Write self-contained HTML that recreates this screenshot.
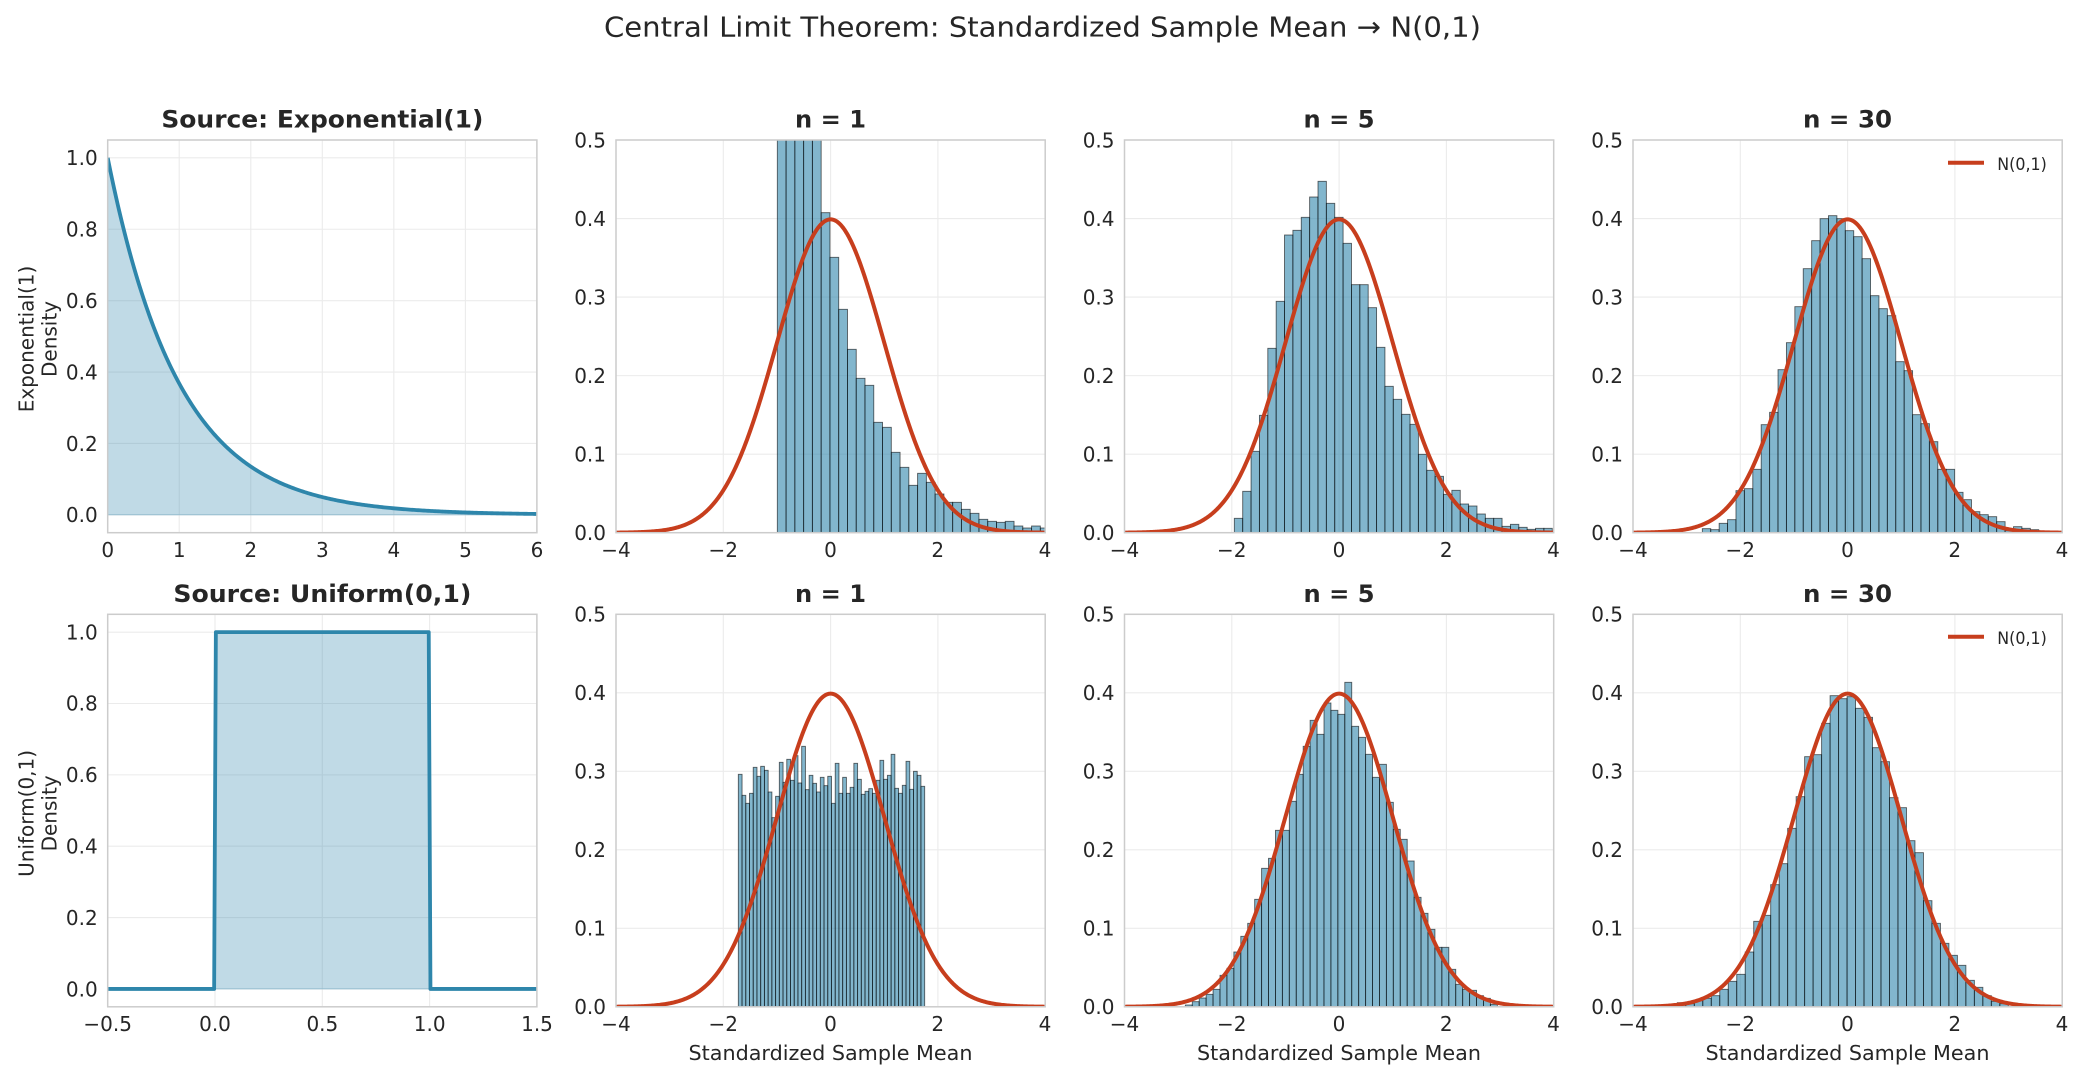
<!DOCTYPE html>
<html>
<head>
<meta charset="utf-8">
<style>
  html, body { margin: 0; padding: 0; background: #ffffff; }
  body { width: 2085px; height: 1078px; overflow: hidden; }
  svg { display: block; }
  text { font-family: "DejaVu Sans", "Liberation Sans", sans-serif; fill: #262626; }
  .tk { font-size: 20px; }
  .ttl { font-size: 24px; font-weight: bold; }
  .lab { font-size: 20px; }
</style>
</head>
<body>
<svg id="fig" xmlns="http://www.w3.org/2000/svg" width="2085" height="1078" viewBox="0 0 2085 1078">
  <rect x="0" y="0" width="2085" height="1078" fill="#ffffff"/>
  <defs id="defs"></defs>
  <g id="grid"></g>
  <g id="data"></g>
  <g id="frames"></g>

  <!-- Suptitle -->
  <text x="1042.5" y="36.7" text-anchor="middle" font-size="28" textLength="877" lengthAdjust="spacingAndGlyphs">Central Limit Theorem: Standardized Sample Mean → N(0,1)</text>

  <!-- Titles row 1 -->
  <text class="ttl" x="322.35" y="127.5" text-anchor="middle" textLength="322" lengthAdjust="spacingAndGlyphs">Source: Exponential(1)</text>
  <text class="ttl" x="830.5" y="127.5" text-anchor="middle" textLength="71" lengthAdjust="spacingAndGlyphs">n = 1</text>
  <text class="ttl" x="1339" y="127.5" text-anchor="middle" textLength="71" lengthAdjust="spacingAndGlyphs">n = 5</text>
  <text class="ttl" x="1847.5" y="127.5" text-anchor="middle" textLength="89" lengthAdjust="spacingAndGlyphs">n = 30</text>
  <!-- Titles row 2 -->
  <text class="ttl" x="322.35" y="601.8" text-anchor="middle" textLength="298" lengthAdjust="spacingAndGlyphs">Source: Uniform(0,1)</text>
  <text class="ttl" x="830.5" y="601.8" text-anchor="middle" textLength="71" lengthAdjust="spacingAndGlyphs">n = 1</text>
  <text class="ttl" x="1339" y="601.8" text-anchor="middle" textLength="71" lengthAdjust="spacingAndGlyphs">n = 5</text>
  <text class="ttl" x="1847.5" y="601.8" text-anchor="middle" textLength="89" lengthAdjust="spacingAndGlyphs">n = 30</text>

  <!-- Y axis labels -->
  <text class="lab" text-anchor="middle" transform="translate(33.7,339) rotate(-90)">Exponential(1)</text>
  <text class="lab" text-anchor="middle" transform="translate(56.6,339) rotate(-90)">Density</text>
  <text class="lab" text-anchor="middle" transform="translate(33.7,813.4) rotate(-90)">Uniform(0,1)</text>
  <text class="lab" text-anchor="middle" transform="translate(56.6,813.4) rotate(-90)">Density</text>

  <!-- X axis labels -->
  <text class="lab" x="830.5" y="1060" text-anchor="middle" textLength="284" lengthAdjust="spacingAndGlyphs">Standardized Sample Mean</text>
  <text class="lab" x="1339" y="1060" text-anchor="middle" textLength="284" lengthAdjust="spacingAndGlyphs">Standardized Sample Mean</text>
  <text class="lab" x="1847.5" y="1060" text-anchor="middle" textLength="284" lengthAdjust="spacingAndGlyphs">Standardized Sample Mean</text>

  <!-- Row 1 col 0 ticks -->
  <g class="tk" text-anchor="middle">
    <text class="tk" x="107.7" y="557">0</text>
    <text class="tk" x="179.25" y="557">1</text>
    <text class="tk" x="250.8" y="557">2</text>
    <text class="tk" x="322.35" y="557">3</text>
    <text class="tk" x="393.9" y="557">4</text>
    <text class="tk" x="465.45" y="557">5</text>
    <text class="tk" x="537" y="557">6</text>
  </g>
  <g text-anchor="end">
    <text class="tk" x="97.7" y="165.15">1.0</text>
    <text class="tk" x="97.7" y="236.55">0.8</text>
    <text class="tk" x="97.7" y="307.95">0.6</text>
    <text class="tk" x="97.7" y="379.35">0.4</text>
    <text class="tk" x="97.7" y="450.75">0.2</text>
    <text class="tk" x="97.7" y="522.15">0.0</text>
  </g>
  <!-- Row 2 col 0 ticks -->
  <g text-anchor="middle">
    <text class="tk" x="107.7" y="1031">−0.5</text>
    <text class="tk" x="215.0" y="1031">0.0</text>
    <text class="tk" x="322.35" y="1031">0.5</text>
    <text class="tk" x="429.7" y="1031">1.0</text>
    <text class="tk" x="537" y="1031">1.5</text>
  </g>
  <g text-anchor="end">
    <text class="tk" x="97.7" y="639.25">1.0</text>
    <text class="tk" x="97.7" y="710.65">0.8</text>
    <text class="tk" x="97.7" y="782.05">0.6</text>
    <text class="tk" x="97.7" y="853.45">0.4</text>
    <text class="tk" x="97.7" y="924.85">0.2</text>
    <text class="tk" x="97.7" y="996.25">0.0</text>
  </g>

  <!-- Hist x ticks row 1 -->
  <g text-anchor="middle">
    <text class="tk" x="616" y="557">−4</text>
    <text class="tk" x="723.25" y="557">−2</text>
    <text class="tk" x="830.5" y="557">0</text>
    <text class="tk" x="937.75" y="557">2</text>
    <text class="tk" x="1045" y="557">4</text>
    <text class="tk" x="1124.5" y="557">−4</text>
    <text class="tk" x="1231.75" y="557">−2</text>
    <text class="tk" x="1339" y="557">0</text>
    <text class="tk" x="1446.25" y="557">2</text>
    <text class="tk" x="1553.5" y="557">4</text>
    <text class="tk" x="1633" y="557">−4</text>
    <text class="tk" x="1740.25" y="557">−2</text>
    <text class="tk" x="1847.5" y="557">0</text>
    <text class="tk" x="1954.75" y="557">2</text>
    <text class="tk" x="2062" y="557">4</text>
  </g>
  <!-- Hist x ticks row 2 -->
  <g text-anchor="middle">
    <text class="tk" x="616" y="1031">−4</text>
    <text class="tk" x="723.25" y="1031">−2</text>
    <text class="tk" x="830.5" y="1031">0</text>
    <text class="tk" x="937.75" y="1031">2</text>
    <text class="tk" x="1045" y="1031">4</text>
    <text class="tk" x="1124.5" y="1031">−4</text>
    <text class="tk" x="1231.75" y="1031">−2</text>
    <text class="tk" x="1339" y="1031">0</text>
    <text class="tk" x="1446.25" y="1031">2</text>
    <text class="tk" x="1553.5" y="1031">4</text>
    <text class="tk" x="1633" y="1031">−4</text>
    <text class="tk" x="1740.25" y="1031">−2</text>
    <text class="tk" x="1847.5" y="1031">0</text>
    <text class="tk" x="1954.75" y="1031">2</text>
    <text class="tk" x="2062" y="1031">4</text>
  </g>

  <!-- Hist y ticks row 1 -->
  <g text-anchor="end">
    <text class="tk" x="606" y="147.3">0.5</text>
    <text class="tk" x="606" y="225.8">0.4</text>
    <text class="tk" x="606" y="304.4">0.3</text>
    <text class="tk" x="606" y="382.9">0.2</text>
    <text class="tk" x="606" y="461.5">0.1</text>
    <text class="tk" x="606" y="540.0">0.0</text>
    <text class="tk" x="1114.5" y="147.3">0.5</text>
    <text class="tk" x="1114.5" y="225.8">0.4</text>
    <text class="tk" x="1114.5" y="304.4">0.3</text>
    <text class="tk" x="1114.5" y="382.9">0.2</text>
    <text class="tk" x="1114.5" y="461.5">0.1</text>
    <text class="tk" x="1114.5" y="540.0">0.0</text>
    <text class="tk" x="1623" y="147.3">0.5</text>
    <text class="tk" x="1623" y="225.8">0.4</text>
    <text class="tk" x="1623" y="304.4">0.3</text>
    <text class="tk" x="1623" y="382.9">0.2</text>
    <text class="tk" x="1623" y="461.5">0.1</text>
    <text class="tk" x="1623" y="540.0">0.0</text>
  </g>
  <!-- Hist y ticks row 2 -->
  <g text-anchor="end">
    <text class="tk" x="606" y="621.4">0.5</text>
    <text class="tk" x="606" y="699.9">0.4</text>
    <text class="tk" x="606" y="778.5">0.3</text>
    <text class="tk" x="606" y="857.0">0.2</text>
    <text class="tk" x="606" y="935.6">0.1</text>
    <text class="tk" x="606" y="1014.1">0.0</text>
    <text class="tk" x="1114.5" y="621.4">0.5</text>
    <text class="tk" x="1114.5" y="699.9">0.4</text>
    <text class="tk" x="1114.5" y="778.5">0.3</text>
    <text class="tk" x="1114.5" y="857.0">0.2</text>
    <text class="tk" x="1114.5" y="935.6">0.1</text>
    <text class="tk" x="1114.5" y="1014.1">0.0</text>
    <text class="tk" x="1623" y="621.4">0.5</text>
    <text class="tk" x="1623" y="699.9">0.4</text>
    <text class="tk" x="1623" y="778.5">0.3</text>
    <text class="tk" x="1623" y="857.0">0.2</text>
    <text class="tk" x="1623" y="935.6">0.1</text>
    <text class="tk" x="1623" y="1014.1">0.0</text>
  </g>

  <!-- Legends -->
  <g id="legends">
    <line x1="1948" y1="162.7" x2="1984" y2="162.7" stroke="#C73E1D" stroke-width="4"/>
    <text x="1997.3" y="170" font-size="16.5" textLength="49.5" lengthAdjust="spacingAndGlyphs">N(0,1)</text>
    <line x1="1948" y1="636.7" x2="1984" y2="636.7" stroke="#C73E1D" stroke-width="4"/>
    <text x="1997.3" y="644" font-size="16.5" textLength="49.5" lengthAdjust="spacingAndGlyphs">N(0,1)</text>
  </g>
</svg>

<script>
(function(){
  var NS = "http://www.w3.org/2000/svg";
  function el(tag, attrs, parent){
    var e = document.createElementNS(NS, tag);
    for (var k in attrs) e.setAttribute(k, attrs[k]);
    if (parent) parent.appendChild(e);
    return e;
  }
  var defs = document.getElementById('defs');
  var gGrid = document.getElementById('grid');
  var gData = document.getElementById('data');
  var gFrames = document.getElementById('frames');

  var W = 429.2;
  var L = [107.7, 616, 1124.5, 1633];
  var T = [140, 614.3], B = [532.7, 1006.8];
  var BLUE = "#2E86AB", RED = "#C73E1D";

  function mk(c, r, xl, yl){
    return {
      x: function(v){ return L[c] + (v - xl[0]) / (xl[1] - xl[0]) * W; },
      y: function(v){ return B[r] - (v - yl[0]) / (yl[1] - yl[0]) * (B[r] - T[r]); }
    };
  }

  var srcYt = [0, 0.2, 0.4, 0.6, 0.8, 1.0];
  var histYt = [0, 0.1, 0.2, 0.3, 0.4, 0.5];
  var histXt = [-4, -2, 0, 2, 4];

  var panels = [];
  panels.push({c:0, r:0, xl:[0,6], yl:[-0.05,1.05], xt:[0,1,2,3,4,5,6], yt:srcYt, kind:'exp'});
  panels.push({c:0, r:1, xl:[-0.5,1.5], yl:[-0.05,1.05], xt:[-0.5,0,0.5,1,1.5], yt:srcYt, kind:'uni'});

  var hists = [
    {c:1, r:0, ox:560, oy:100, e0:652, w:26.3,
     tops:[0,0,0,0,0,338,472,628,748,835,856,967,982,1057,1102,1156,1120,1147,1182,1207,1207,1228,1240,1258,1264,1267,1264,1278,1284,1278,1284]},
    {c:2, r:0, ox:1115, oy:135, e0:358, w:25.1,
     tops:[1150,1069,949,841,640,499,300,286,247,186,139,205,247,325,449,449,518,637,754,793,838,868,958,1006,1024,1078,1066,1107,1113,1137,1150,1150,1174,1168,1177,1183,1180,1180]},
    {c:3, r:0, ox:1623, oy:135, e0:238, w:25.23,
     tops:[1181,1184,1165,1154,1067,1061,1003,869,832,704,623,515,401,317,251,242,251,287,305,371,482,521,542,680,707,839,866,920,1003,1003,1072,1094,1130,1139,1145,1160,1187,1175,1180,1184]},
    {c:1, r:1, ox:606, oy:609, e0:397, w:11.18,
     tops:[496,559,583,553,475,502,472,484,549,626,562,460,520,451,514,440,522,412,542,499,523,549,505,530,502,583,463,553,505,553,535,463,511,556,547,539,553,514,454,511,499,436,538,553,529,457,541,487,499,532]},
    {c:2, r:1, ox:1115, oy:609, e0:211, w:20.8,
     tops:[1188,1178,1167,1156,1141,1099,1078,1029,982,943,871,778,748,664,664,577,496,412,334,376,282,304,316,220,352,385,436,505,466,580,661,691,756,865,913,961,1015,1015,1081,1126,1141,1144,1160,1168,1186]},
    {c:3, r:1, ox:1623, oy:609, e0:163, w:25.46,
     tops:[1181,1184,1175,1168,1160,1141,1117,1096,1029,937,919,827,764,658,563,443,437,343,260,269,263,298,325,416,458,566,596,695,731,875,943,1003,1039,1069,1114,1135,1160,1177,1184]}
  ];
  hists.forEach(function(h){
    panels.push({c:h.c, r:h.r, xl:[-4,4], yl:[0,0.5], xt:histXt, yt:histYt, kind:'hist', h:h});
  });

  panels.forEach(function(p, idx){
    var m = mk(p.c, p.r, p.xl, p.yl);
    var x0 = L[p.c], x1 = L[p.c] + W, y0 = T[p.r], y1 = B[p.r];
    var cpId = 'cp' + idx;
    var cp = el('clipPath', {id: cpId}, defs);
    el('rect', {x: x0, y: y0, width: W, height: y1 - y0}, cp);

    // grid
    p.xt.forEach(function(v){
      var X = m.x(v);
      el('line', {x1:X, y1:y0, x2:X, y2:y1, stroke:'#ebebeb', 'stroke-width':1.1}, gGrid);
    });
    p.yt.forEach(function(v){
      var Y = m.y(v);
      el('line', {x1:x0, y1:Y, x2:x1, y2:Y, stroke:'#ebebeb', 'stroke-width':1.1}, gGrid);
    });

    var g = el('g', {'clip-path': 'url(#' + cpId + ')'}, gData);

    if (p.kind === 'exp'){
      var pts = [], i, v;
      for (i = 0; i <= 300; i++){
        v = 6 * i / 300;
        pts.push(m.x(v).toFixed(2) + ',' + m.y(Math.exp(-v)).toFixed(2));
      }
      var fillD = 'M' + m.x(0).toFixed(2) + ',' + m.y(0).toFixed(2) + ' L' + pts.join(' L') + ' L' + m.x(6).toFixed(2) + ',' + m.y(0).toFixed(2) + ' Z';
      el('path', {d: fillD, fill: BLUE, 'fill-opacity': 0.3, stroke: BLUE, 'stroke-opacity': 0.3, 'stroke-width': 1}, g);
      el('path', {d: 'M' + pts.join(' L'), fill: 'none', stroke: BLUE, 'stroke-width': 3.8, 'stroke-linejoin': 'round'}, g);
    } else if (p.kind === 'uni'){
      var fd = 'M' + m.x(0) + ',' + m.y(0) + ' L' + m.x(0) + ',' + m.y(1) + ' L' + m.x(1) + ',' + m.y(1) + ' L' + m.x(1) + ',' + m.y(0) + ' Z';
      el('path', {d: fd, fill: BLUE, 'fill-opacity': 0.3, stroke: BLUE, 'stroke-opacity': 0.3, 'stroke-width': 1}, g);
      var ld = 'M' + m.x(-0.5) + ',' + m.y(0) + ' L' + m.x(-0.004) + ',' + m.y(0) + ' L' + m.x(0.004) + ',' + m.y(1) +
               ' L' + m.x(0.996) + ',' + m.y(1) + ' L' + m.x(1.004) + ',' + m.y(0) + ' L' + m.x(1.5) + ',' + m.y(0);
      el('path', {d: ld, fill: 'none', stroke: BLUE, 'stroke-width': 3.8, 'stroke-linejoin': 'round'}, g);
    } else {
      var h = p.h;
      var gb = el('g', {}, g);
      h.tops.forEach(function(t, i){
        var bx0 = h.ox + (h.e0 + i * h.w) / 3;
        var bw = h.w / 3;
        var by = h.oy + t / 3;
        if (by < y0 - 5) by = y0 - 5;
        el('rect', {x: bx0.toFixed(2), y: by.toFixed(2), width: bw.toFixed(2), height: (y1 - by).toFixed(2),
                    fill: BLUE, 'fill-opacity': 0.6, stroke: '#000', 'stroke-opacity': 0.6, 'stroke-width': 0.9}, gb);
      });
      var np = [];
      for (var k = 0; k <= 400; k++){
        var vv = -4 + 8 * k / 400;
        var pdf = Math.exp(-vv * vv / 2) / Math.sqrt(2 * Math.PI);
        np.push(m.x(vv).toFixed(2) + ',' + m.y(pdf).toFixed(2));
      }
      el('path', {d: 'M' + np.join(' L'), fill: 'none', stroke: RED, 'stroke-width': 4, 'stroke-linejoin': 'round'}, g);
    }

    // frame
    el('rect', {x: x0, y: y0, width: W, height: y1 - y0, fill: 'none', stroke: '#cccccc', 'stroke-width': 1.5}, gFrames);
  });
})();
</script>
</body>
</html>
